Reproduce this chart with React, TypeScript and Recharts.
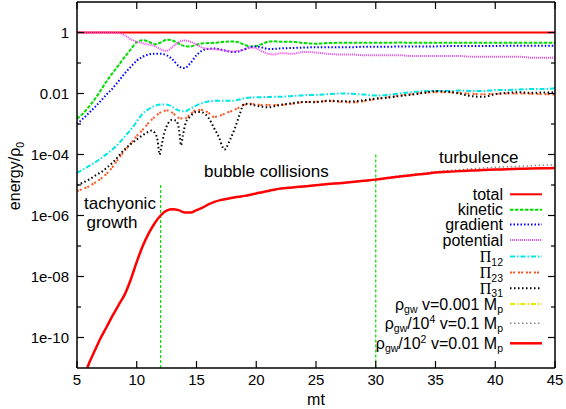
import { LineChart, Line, XAxis, YAxis, ReferenceLine } from 'recharts';

const W = 566;
const H = 409;
const SANS = '"Liberation Sans", Arial, Helvetica, sans-serif';
const SERIF = '"Liberation Serif", "Times New Roman", serif';

// shared time grid (mt)
const mt = [
  5, 5.5, 6, 6.5, 7, 7.5, 8, 8.5, 9, 9.5, 10, 10.5, 11, 11.5, 12, 12.5, 13, 13.5,
  14, 14.5, 15, 15.5, 16, 16.5, 17, 17.5, 18, 18.5, 19, 19.5, 20, 20.5, 21, 21.5,
  22, 23, 24, 25, 26, 27, 28, 29, 30, 31, 32, 33, 34, 35, 36, 37, 38, 39, 40, 41,
  42, 43, 44, 45,
];

const totalMt = [5, 45];
const total = [1, 1];

const kinetic = [
  1.5e-3, 2.2e-3, 3.7e-3, 6.6e-3, 0.013, 0.026, 0.048, 0.087, 0.16, 0.28, 0.48, 0.56,
  0.5, 0.41, 0.47, 0.58, 0.55, 0.43, 0.36, 0.35, 0.4, 0.44, 0.45, 0.46, 0.48, 0.5,
  0.51, 0.48, 0.4, 0.35, 0.36, 0.42, 0.5, 0.52, 0.5, 0.5, 0.45, 0.43, 0.45, 0.46,
  0.46, 0.46, 0.46, 0.46, 0.47, 0.46, 0.46, 0.46, 0.46, 0.46, 0.46, 0.46, 0.46,
  0.46, 0.46, 0.46, 0.46, 0.46,
];

const gradient = [
  1e-3, 1.5e-3, 2.3e-3, 3.6e-3, 5.8e-3, 9.5e-3, 0.015, 0.026, 0.046, 0.075, 0.12,
  0.16, 0.19, 0.2, 0.2, 0.18, 0.13, 0.08, 0.068, 0.1, 0.18, 0.26, 0.29, 0.3, 0.28,
  0.25, 0.23, 0.24, 0.28, 0.33, 0.35, 0.32, 0.29, 0.29, 0.3, 0.31, 0.32, 0.33,
  0.33, 0.33, 0.33, 0.34, 0.34, 0.34, 0.35, 0.35, 0.35, 0.35, 0.36, 0.36, 0.36,
  0.36, 0.36, 0.37, 0.37, 0.37, 0.37, 0.37,
];

const potential = [
  1, 1, 1, 1, 1, 1, 0.99, 0.97, 0.8, 0.6, 0.5, 0.44, 0.4, 0.36, 0.28, 0.25, 0.34,
  0.48, 0.55, 0.5, 0.4, 0.32, 0.29, 0.28, 0.27, 0.25, 0.24, 0.25, 0.28, 0.32, 0.3,
  0.24, 0.2, 0.19, 0.21, 0.2, 0.23, 0.22, 0.2, 0.19, 0.19, 0.18, 0.18, 0.18, 0.18,
  0.17, 0.17, 0.17, 0.17, 0.17, 0.16, 0.16, 0.16, 0.16, 0.16, 0.15, 0.15, 0.15,
];

const pi12 = [
  2.5e-5, 3.2e-5, 4.2e-5, 5.5e-5, 7.5e-5, 1.05e-4, 1.5e-4, 2.3e-4, 3.9e-4, 6.5e-4,
  1.2e-3, 2.2e-3, 3.1e-3, 3.9e-3, 4.4e-3, 4.4e-3, 3.6e-3, 2.8e-3, 2.6e-3, 3.2e-3,
  4.1e-3, 4.9e-3, 5.5e-3, 5.8e-3, 5.8e-3, 5.8e-3, 5.8e-3, 6.2e-3, 7e-3, 7.4e-3,
  7.5e-3, 7.6e-3, 7.7e-3, 7.8e-3, 7.8e-3, 8.3e-3, 8.8e-3, 9e-3, 9.5e-3, 0.01,
  0.0098, 0.0092, 0.0086, 0.009, 0.01, 0.011, 0.012, 0.012, 0.012, 0.0125, 0.012,
  0.012, 0.013, 0.013, 0.0135, 0.014, 0.014, 0.015,
];

const pi23 = [
  6.3e-6, 7.5e-6, 9e-6, 1.2e-5, 1.6e-5, 2.4e-5, 4e-5, 7.5e-5, 1.35e-4, 2.3e-4, 4e-4,
  6.5e-4, 1.1e-3, 1.7e-3, 2.4e-3, 2.8e-3, 2.3e-3, 1.6e-3, 1.5e-3, 2.1e-3, 2.9e-3,
  2.9e-3, 2.3e-3, 1.7e-3, 1.9e-3, 2.3e-3, 2.7e-3, 3.4e-3, 4.2e-3, 4.6e-3, 4.4e-3,
  4.2e-3, 4.2e-3, 4.2e-3, 4.2e-3, 4.6e-3, 5.2e-3, 5.4e-3, 5.6e-3, 5.4e-3, 5.1e-3,
  5.6e-3, 6.6e-3, 7.5e-3, 8.5e-3, 9.5e-3, 0.0105, 0.011, 0.011, 0.0105, 0.0098,
  0.0095, 0.0098, 0.01, 0.01, 0.0098, 0.0095, 0.0093,
];

// Pi31 has sharp dips, so it gets a finer grid
const mtPi31 = [
  5, 5.5, 6, 6.5, 7, 7.5, 8, 8.5, 9, 9.5, 10, 10.5, 11, 11.25, 11.5, 11.75, 11.9,
  12.1, 12.3, 12.6, 12.9, 13.3, 13.55, 13.7, 13.85, 14.1, 14.5, 15, 15.5, 16, 16.5,
  16.9, 17.2, 17.35, 17.5, 17.8, 18.2, 18.6, 19, 19.5, 20, 20.5, 21, 21.5, 22, 23,
  24, 25, 26, 27, 28, 29, 30, 31, 32, 33, 34, 35, 36, 37, 38, 39, 40, 41, 42, 43,
  44, 45,
];
const pi31 = [
  1e-5, 1.2e-5, 1.5e-5, 2e-5, 2.6e-5, 3.7e-5, 5.5e-5, 9e-5, 1.5e-4, 2.2e-4, 3.1e-4,
  4.3e-4, 5.6e-4, 6.1e-4, 5.2e-4, 2.8e-4, 1e-4, 2.2e-4, 5e-4, 1e-3, 1.35e-3, 1.3e-3,
  6e-4, 2e-4, 4e-4, 1.1e-3, 1.8e-3, 2.5e-3, 2.4e-3, 1.6e-3, 7e-4, 3.5e-4, 1.7e-4,
  1.45e-4, 1.7e-4, 3e-4, 7e-4, 2e-3, 4.6e-3, 4.4e-3, 4e-3, 3.7e-3, 3.5e-3, 3.8e-3,
  4.2e-3, 4.8e-3, 5.3e-3, 5.2e-3, 5.8e-3, 5.6e-3, 5.5e-3, 6e-3, 6.8e-3, 7.3e-3,
  8.3e-3, 9.2e-3, 0.0105, 0.012, 0.0115, 0.01, 0.0082, 0.0078, 0.0095, 0.0105,
  0.011, 0.0105, 0.0108, 0.0107,
];

// rho_gw, v = 0.001 Mp: nothing visible in the plotted range
const gwSmallMt: number[] = [];
const gwSmall: number[] = [];

const gwLargeMt = [20, 22, 24, 26, 28, 30, 32, 34, 36, 38, 40, 42, 44, 45];
const gwLarge = [
  5.3e-6, 7.6e-6, 9e-6, 1.07e-5, 1.27e-5, 1.55e-5, 2e-5, 2.45e-5, 2.95e-5, 3.4e-5,
  3.8e-5, 4.1e-5, 4.45e-5, 4.6e-5,
];

const gwMid = [
  1.6e-12, 4e-12, 1.4e-11, 3.8e-11, 1e-10, 2.3e-10, 5.4e-10, 1.2e-9, 2.6e-9, 8e-9,
  3e-8, 1e-7, 2.6e-7, 5.6e-7, 1e-6, 1.45e-6, 1.6e-6, 1.5e-6, 1.25e-6, 1.25e-6,
  1.5e-6, 1.8e-6, 2.3e-6, 2.8e-6, 3.2e-6, 3.5e-6, 3.8e-6, 4.1e-6, 4.4e-6, 4.8e-6,
  5.3e-6, 5.8e-6, 6.4e-6, 7e-6, 7.6e-6, 8.3e-6, 9e-6, 9.8e-6, 1.07e-5, 1.15e-5,
  1.25e-5, 1.37e-5, 1.5e-5, 1.7e-5, 1.9e-5, 2.1e-5, 2.3e-5, 2.55e-5, 2.7e-5,
  2.85e-5, 3e-5, 3.1e-5, 3.2e-5, 3.3e-5, 3.4e-5, 3.5e-5, 3.55e-5, 3.6e-5,
];

// phase boundaries (mt, top of the marker)
const phaseMt = [12, 30];
const phaseTop = [1e-5, 1e-4];

const xTicks = [5, 10, 15, 20, 25, 30, 35, 40, 45];
const yTicks = [1e-10, 1e-9, 1e-8, 1e-7, 1e-6, 1e-5, 1e-4, 1e-3, 1e-2, 1e-1, 1];
const yDomain = [1e-11, 10];

type Seg = [string, 'n' | 'sub' | 'sup' | 'pi'];

const series: {
  key: string;
  xs: number[];
  ys: number[];
  color: string;
  width: number;
  dash?: string;
  label: Seg[];
  legendY: number;
}[] = [
  { key: 'total', xs: totalMt, ys: total, color: '#ff0000', width: 2, label: [['total', 'n']], legendY: 194.3 },
  { key: 'kinetic', xs: mt, ys: kinetic, color: '#00dd00', width: 2, dash: '3.5 1.5', label: [['kinetic', 'n']], legendY: 209.8 },
  { key: 'gradient', xs: mt, ys: gradient, color: '#0000ff', width: 2, dash: '1.5 2', label: [['gradient', 'n']], legendY: 224.5 },
  { key: 'potential', xs: mt, ys: potential, color: '#ee44ee', width: 2, dash: '1 1', label: [['potential', 'n']], legendY: 240 },
  { key: 'pi12', xs: mt, ys: pi12, color: '#00e5e5', width: 2, dash: '5 2 1.5 2', label: [['Π', 'pi'], ['12', 'sub']], legendY: 256.5 },
  { key: 'pi23', xs: mt, ys: pi23, color: '#ff5522', width: 2, dash: '2 1 2 3', label: [['Π', 'pi'], ['23', 'sub']], legendY: 272.5 },
  { key: 'pi31', xs: mtPi31, ys: pi31, color: '#000000', width: 2, dash: '1.5 2.5', label: [['Π', 'pi'], ['31', 'sub']], legendY: 288.3 },
  {
    key: 'gwSmall', xs: gwSmallMt, ys: gwSmall, color: '#e8e800', width: 2, dash: '5 2 1.5 2',
    label: [['ρ', 'n'], ['gw', 'sub'], [' v=0.001 M', 'n'], ['p', 'sub']], legendY: 304,
  },
  {
    key: 'gwLarge', xs: gwLargeMt, ys: gwLarge, color: '#888888', width: 1.5, dash: '1.5 2.5',
    label: [['ρ', 'n'], ['gw', 'sub'], ['/10', 'n'], ['4', 'sup'], [' v=0.1 M', 'n'], ['p', 'sub']], legendY: 323.3,
  },
  {
    key: 'gwMid', xs: mt, ys: gwMid, color: '#ff0000', width: 2.5,
    label: [['ρ', 'n'], ['gw', 'sub'], ['/10', 'n'], ['2', 'sup'], [' v=0.01 M', 'n'], ['p', 'sub']], legendY: 343.3,
  },
];

const pts = (xs: number[], ys: number[]) => xs.map((x, i) => ({ x, y: ys[i] }));

const expOf = (v: number) => Math.round(Math.log10(v));
const yLabel = (v: number) => {
  const e = expOf(v);
  if (e === 0) return '1';
  if (e === -2) return '0.01';
  return `1e-${String(-e).padStart(2, '0')}`;
};

const LeftTick = (props: any) => {
  const { x, y, payload } = props;
  const major = expOf(payload.value) % 2 === 0;
  return (
    <g>
      <line x1={x} x2={x + (major ? 7 : 4)} y1={y} y2={y} stroke="#000" strokeWidth={1.2} />
      {major && (
        <text x={x - 8} y={y + 5} textAnchor="end" fontSize={15} fontFamily={SANS} fill="#000">
          {yLabel(payload.value)}
        </text>
      )}
    </g>
  );
};

const RightTick = (props: any) => {
  const { x, y, payload } = props;
  const major = expOf(payload.value) % 2 === 0;
  return <line x1={x - (major ? 7 : 4)} x2={x} y1={y} y2={y} stroke="#000" strokeWidth={1.2} />;
};

const BottomTick = (props: any) => {
  const { x, y, payload } = props;
  return (
    <g>
      <line x1={x} x2={x} y1={y} y2={y - 7} stroke="#000" strokeWidth={1.2} />
      <text x={x} y={y + 17} textAnchor="middle" fontSize={15} fontFamily={SANS} fill="#000">
        {payload.value}
      </text>
    </g>
  );
};

const TopTick = (props: any) => {
  const { x, y } = props;
  return <line x1={x} x2={x} y1={y} y2={y + 7} stroke="#000" strokeWidth={1.2} />;
};

function RichText({ segs, x, y, anchor }: { segs: Seg[]; x: number; y: number; anchor: string }) {
  let cur = 0;
  return (
    <text x={x} y={y} textAnchor={anchor} fontSize={16} fontFamily={SANS} fill="#000">
      {segs.map(([t, k], i) => {
        const want = k === 'sub' ? 3.5 : k === 'sup' ? -6 : 0;
        const dy = want - cur;
        cur = want;
        const small = k === 'sub' || k === 'sup';
        return (
          <tspan
            key={i}
            dy={dy}
            fontSize={small ? 10.5 : 16}
            fontFamily={k === 'pi' ? SERIF : SANS}
          >
            {t}
          </tspan>
        );
      })}
    </text>
  );
}

const axisLine = { stroke: '#000', strokeWidth: 1.5 };

export default function App() {
  return (
    <div style={{ position: 'absolute', left: 0, top: 0, width: W, height: H, background: '#fff' }}>
      <LineChart width={W} height={H} margin={{ top: 0, right: 0, bottom: 0, left: 0 }}>
        <XAxis
          xAxisId="b"
          dataKey="x"
          type="number"
          domain={[5, 45]}
          ticks={xTicks}
          interval={0}
          allowDataOverflow
          height={41}
          tickSize={0}
          tickMargin={0}
          tickLine={false}
          axisLine={axisLine}
          tick={<BottomTick />}
        />
        <XAxis
          xAxisId="t"
          orientation="top"
          dataKey="x"
          type="number"
          domain={[5, 45]}
          ticks={xTicks}
          interval={0}
          allowDataOverflow
          height={2}
          tickSize={0}
          tickMargin={0}
          tickLine={false}
          axisLine={axisLine}
          tick={<TopTick />}
        />
        <YAxis
          yAxisId="l"
          type="number"
          scale="log"
          domain={yDomain}
          ticks={yTicks}
          interval={0}
          allowDataOverflow
          width={77}
          tickSize={0}
          tickMargin={0}
          tickLine={false}
          axisLine={axisLine}
          tick={<LeftTick />}
        />
        <YAxis
          yAxisId="r"
          orientation="right"
          type="number"
          scale="log"
          domain={yDomain}
          ticks={yTicks}
          interval={0}
          allowDataOverflow
          width={11}
          tickSize={0}
          tickMargin={0}
          tickLine={false}
          axisLine={axisLine}
          tick={<RightTick />}
        />
        {phaseMt.map((m, i) => (
          <ReferenceLine
            key={m}
            xAxisId="b"
            yAxisId="l"
            segment={[
              { x: m, y: phaseTop[i] },
              { x: m, y: yDomain[0] },
            ]}
            stroke="#00dd00"
            strokeWidth={1.2}
            strokeDasharray="3 2"
          />
        ))}
        {series.map((s) => (
          <Line
            key={s.key}
            xAxisId="b"
            yAxisId="l"
            data={pts(s.xs, s.ys)}
            dataKey="y"
            type="monotone"
            dot={false}
            activeDot={false}
            stroke={s.color}
            strokeWidth={s.width}
            strokeDasharray={s.dash}
            isAnimationActive={false}
          />
        ))}
      </LineChart>
      <svg
        width={W}
        height={H}
        style={{ position: 'absolute', left: 0, top: 0, pointerEvents: 'none' }}
      >
        <text x={120} y={209} textAnchor="middle" fontSize={17} fontFamily={SANS}>tachyonic</text>
        <text x={112} y={228} textAnchor="middle" fontSize={17} fontFamily={SANS}>growth</text>
        <text x={204} y={177} fontSize={17} fontFamily={SANS}>bubble collisions</text>
        <text x={439} y={163} fontSize={17} fontFamily={SANS}>turbulence</text>
        <text x={316} y={405} textAnchor="middle" fontSize={16} fontFamily={SANS}>mt</text>
        <g transform="translate(20 176) rotate(-90)">
          <RichText segs={[['energy/ρ', 'n'], ['0', 'sub']]} x={0} y={0} anchor="middle" />
        </g>
        {series.map((s) => (
          <g key={s.key}>
            <RichText segs={s.label} x={503} y={s.legendY + 5.5} anchor="end" />
            <line
              x1={510}
              x2={542}
              y1={s.legendY}
              y2={s.legendY}
              stroke={s.color}
              strokeWidth={s.width}
              strokeDasharray={s.dash}
            />
          </g>
        ))}
      </svg>
    </div>
  );
}
